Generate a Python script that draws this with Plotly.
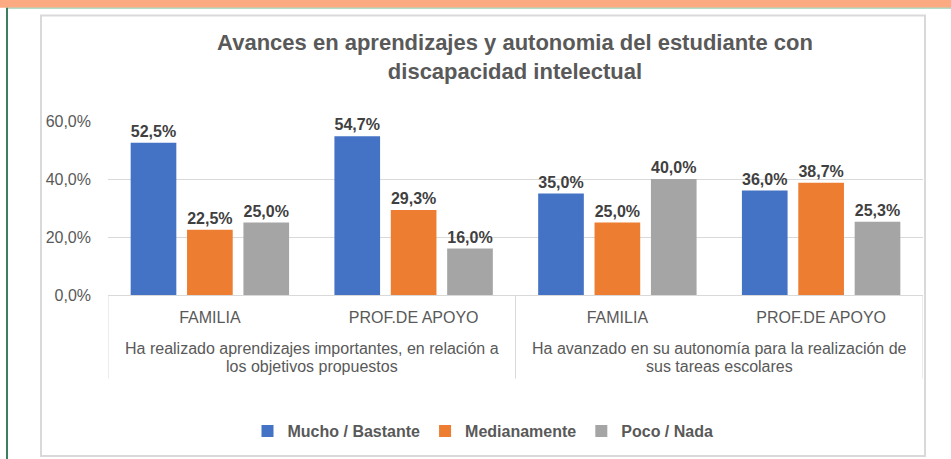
import plotly.graph_objects as go

# ---- data ----
groups = [
    ["Ha realizado aprendizajes importantes, en relación a", "los objetivos propuestos"],
    ["Ha avanzado en su autonomía para la realización de", "sus tareas escolares"],
]
respondents = ["FAMILIA", "PROF.DE APOYO"]
series_names = ["Mucho / Bastante", "Medianamente", "Poco / Nada"]
mucho = [0.525, 0.547, 0.350, 0.360]
mediana = [0.225, 0.293, 0.250, 0.387]
poco = [0.250, 0.160, 0.400, 0.253]
y_ticks = [0, 0.2, 0.4, 0.6]
title_text = "Avances en aprendizajes y autonomia del estudiante con<br>discapacidad intelectual"

colors = ["#4472C4", "#ED7D31", "#A5A5A5"]

inner = [r for _ in groups for r in respondents]
xpos = list(range(len(inner)))
n_in = len(respondents)

W, H = 951, 459
PL, PR, PT, PB = 108, 923, 121, 296  # plot area in px


def px(x):
    return (x - PL) / (PR - PL)


def py(y):
    return (PB - y) / (PB - PT)


fig = go.Figure()
for name, vals, col in zip(series_names, [mucho, mediana, poco], colors):
    fig.add_trace(go.Bar(
        x=xpos, y=vals, name=name,
        marker=dict(color=col, line=dict(width=10, color="rgba(0,0,0,0)")),
        texttemplate="%{y:.1%}", textposition="outside",
        textfont=dict(family="Liberation Sans", size=16, color="#404040", weight="bold"),
        cliponaxis=False,
    ))

shapes = [
    # chart frame
    dict(type="rect", xref="paper", yref="paper", x0=px(41), x1=px(925), y0=py(458), y1=py(15),
         line=dict(color="#D9D9D9", width=2), fillcolor="rgba(0,0,0,0)", layer="below"),
    # orange band
    dict(type="rect", xref="paper", yref="paper", x0=px(0), x1=px(951), y0=py(7), y1=py(-2),
         line=dict(width=0), fillcolor="#FBAA82", layer="below"),
    dict(type="line", xref="paper", yref="paper", x0=px(7), x1=px(951), y0=py(7.5), y1=py(7.5),
         line=dict(color="#8CC9A8", width=1)),
    # green left border
    dict(type="line", xref="paper", yref="paper", x0=px(7), x1=px(7), y0=py(7), y1=py(462),
         line=dict(color="#3C7F5C", width=2)),
]
# group dividers on the category axis
for k in range(len(groups) + 1):
    xd = k * n_in - 0.5
    shapes.append(dict(type="line", xref="x", yref="paper", x0=xd, x1=xd, y0=0, y1=py(380),
                       line=dict(color="#D9D9D9", width=1)))

annotations = []
for gi, lines in enumerate(groups):
    xc = gi * n_in + (n_in - 1) / 2
    for li, line in enumerate(lines):
        annotations.append(dict(
            text=line, x=xc, xref="x", y=py(350 + 17.5 * li), yref="paper",
            xanchor="center", yanchor="middle", showarrow=False,
            font=dict(size=16, color="#595959", family="Liberation Sans"),
        ))

fig.update_layout(
    width=W, height=H,
    margin=dict(l=PL, r=W - PR, t=PT, b=H - PB, pad=0),
    paper_bgcolor="white", plot_bgcolor="white",
    separators=",.",
    barmode="group", bargap=0.17, bargroupgap=0.19,
    font=dict(family="Liberation Sans", color="#595959"),
    title=dict(text=title_text, x=px(515), xref="paper", xanchor="center",
               y=1 - 50 / H, yref="container", yanchor="middle",
               font=dict(size=22, color="#595959", family="Liberation Sans", weight="bold")),
    showlegend=True,
    legend=dict(orientation="h", x=px(483), xanchor="center", y=py(431), yanchor="middle",
                font=dict(size=16, color="#595959", weight="bold"), traceorder="normal",
                itemwidth=30),
    shapes=shapes,
    annotations=annotations,
)
fig.update_yaxes(range=[0, 0.6], tickvals=y_ticks, tickformat=".1%",
                 showgrid=True, gridcolor="#D9D9D9", gridwidth=1, zeroline=False,
                 showline=False, ticks="", ticklabelstandoff=16,
                 tickfont=dict(size=16, color="#595959"))
fig.update_xaxes(range=[-0.5, len(inner) - 0.5], tickvals=xpos, ticktext=inner,
                 showline=True, linecolor="#D9D9D9", linewidth=1, showgrid=False,
                 zeroline=False, ticks="", ticklabelstandoff=8,
                 tickfont=dict(size=16, color="#595959"))

fig.write_html("out.html", config={"displayModeBar": False},
               post_script="document.body.style.margin='0';")
